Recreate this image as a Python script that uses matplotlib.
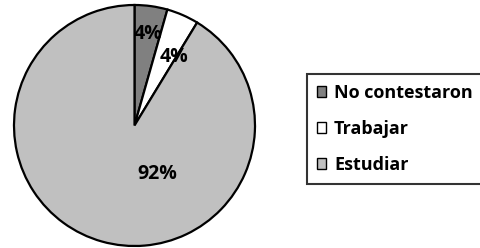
import matplotlib.pyplot as plt

labels = ['No contestaron', 'Trabajar', 'Estudiar']
values = [4.4, 4.3, 91.3]
pct_text = ['4%', '4%', '92%']
colors = ['#808080', '#ffffff', '#c0c0c0']

plt.rcParams['font.family'] = ['Open Sans', 'DejaVu Sans']

fig = plt.figure(figsize=(4.81, 2.48), dpi=100)
ax = fig.add_axes([14 / 481, 2 / 248, 241 / 481, 241 / 248])

wedges, _ = ax.pie(values, colors=colors, startangle=90, counterclock=False,
                   wedgeprops=dict(edgecolor='black', linewidth=1.6))
ax.set_xlim(-1, 1)
ax.set_ylim(-1, 1)
ax.set_aspect('auto')

# label positions (radius fraction)
pos = [(0.116, 0.76), (0.33, 0.57), (0.19, -0.40)]
for (x, y), t in zip(pos, pct_text):
    ax.text(x, y, t, ha='center', va='center', fontsize=14, fontweight='bold')

leg = fig.legend(wedges, labels, loc='upper left',
                 bbox_to_anchor=(307 / 481, 1 - 74 / 248), borderaxespad=0,
                 frameon=True, fancybox=False, edgecolor='black',
                 prop=dict(size=13, weight='bold'),
                 handlelength=0.5, handleheight=0.5, handletextpad=0.45,
                 labelspacing=1.0, borderpad=0.55)
leg.get_frame().set_linewidth(1.5)
for h in leg.legend_handles:
    h.set_linewidth(1.0)

fig.savefig('out.png', dpi=100)
